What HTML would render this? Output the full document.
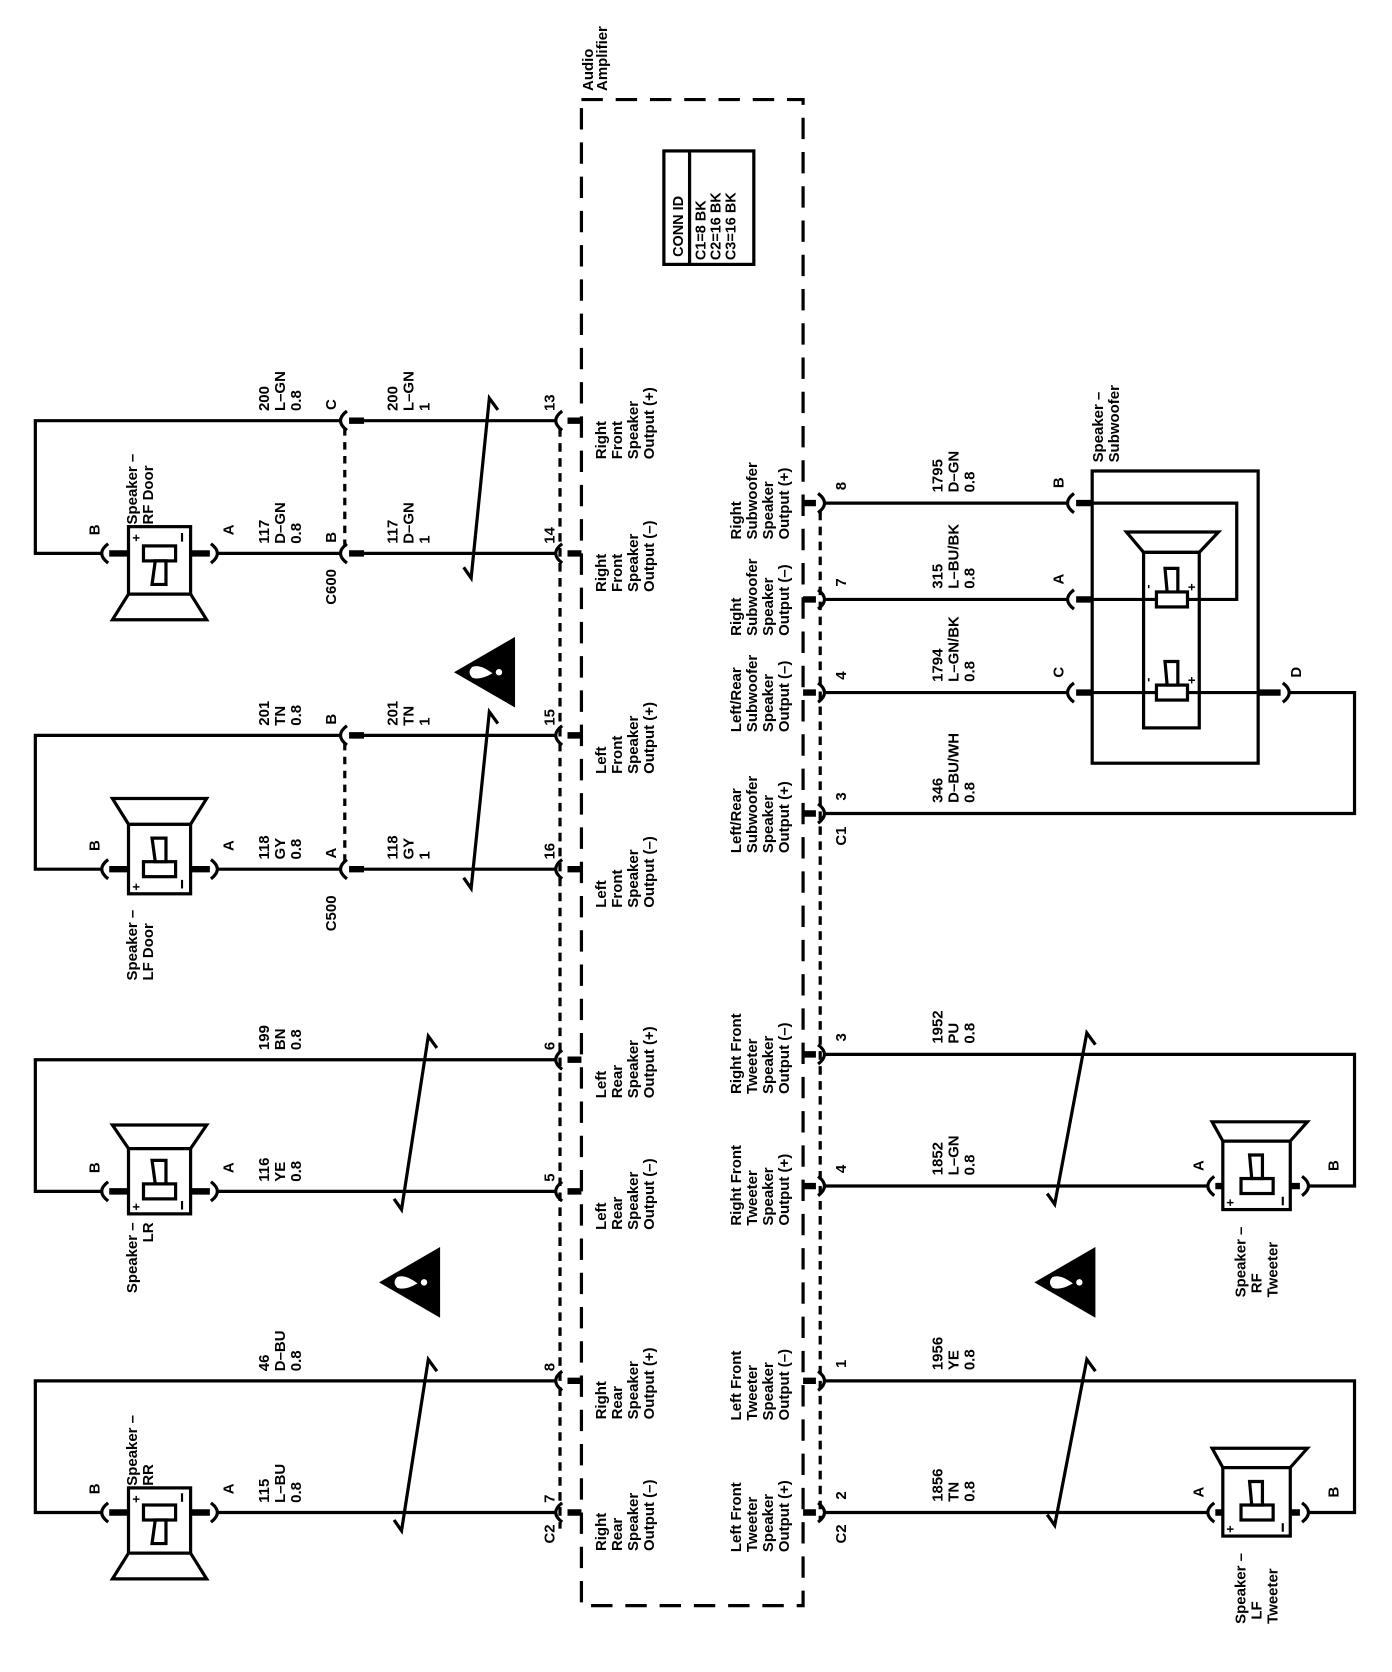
<!DOCTYPE html>
<html><head><meta charset="utf-8"><style>
html,body{margin:0;padding:0;background:#fff}
svg{display:block}
text{font-family:"Liberation Sans",Arial,sans-serif;font-size:14px;font-weight:bold;fill:#000}
.w{stroke:#000;stroke-width:3;fill:none}
.t{stroke:#000;stroke-width:6;fill:none}
.a{stroke:#000;stroke-width:3;fill:none}
.sm{font-size:12px}
.cn{font-size:13.5px}
</style></head><body>
<svg width="1392" height="1672" viewBox="0 0 1300 1562" preserveAspectRatio="none" xmlns="http://www.w3.org/2000/svg">
<rect width="1300" height="1562" fill="#fff"/>

<rect x="543" y="93" width="207" height="1407" fill="none" stroke="#000" stroke-width="3" stroke-dasharray="20 12"/>
<text transform="translate(554,85) rotate(-90)"><tspan x="0" y="0">Audio</tspan><tspan x="0" y="13">Amplifier</tspan></text>
<line x1="523" y1="400" x2="523" y2="1428" stroke="#000" stroke-width="3" stroke-dasharray="8 6"/>
<line x1="766" y1="478" x2="766" y2="1420" stroke="#000" stroke-width="3" stroke-dasharray="8 6"/>

<rect x="620" y="141" width="84" height="106" fill="none" stroke="#000" stroke-width="3"/>
<line x1="644" y1="141" x2="644" y2="247" stroke="#000" stroke-width="3"/>
<text class="cn" transform="translate(638,240) rotate(-90)">CONN ID</text>
<text class="cn" transform="translate(659,243) rotate(-90)"><tspan x="0" y="0">C1=8 BK</tspan><tspan x="0" y="14">C2=16 BK</tspan><tspan x="0" y="28">C3=16 BK</tspan></text>

<g class="w">
<path d="M519,393 H340 M318,393 H33 V517 H95 M203,517 H318 M340,517 H519"/>
<path d="M519,687 H340 M318,687 H33 V812 H95 M203,812 H318 M340,812 H519"/>
<path d="M519,990 H33 V1113 H95 M203,1113 H519"/>
<path d="M519,1290 H33 V1413 H95 M203,1413 H519"/>
</g>
<line x1="322" y1="400" x2="322" y2="512" stroke="#000" stroke-width="3" stroke-dasharray="7 6"/>
<line x1="322" y1="694" x2="322" y2="807" stroke="#000" stroke-width="3" stroke-dasharray="7 6"/>

<g>
<path class="a" d="M525,384 Q513,393 525,402 M525,508 Q513,517 525,526 M525,678 Q513,687 525,696 M525,803 Q513,812 525,821 M525,981 Q513,990 525,999 M525,1104 Q513,1113 525,1122 M525,1281 Q513,1290 525,1299 M525,1404 Q513,1413 525,1422"/>
<path class="t" d="M530,393H543 M530,517H543 M530,687H543 M530,812H543 M530,990H543 M530,1113H543 M530,1290H543 M530,1413H543"/>
<path class="a" d="M324,384 Q312,393 324,402 M324,508 Q312,517 324,526 M324,678 Q312,687 324,696 M324,803 Q312,812 324,821"/>
<path class="t" d="M326,393H340 M326,517H340 M326,687H340 M326,812H340"/>
<path class="a" d="M101,508 Q89,517 101,526 M101,803 Q89,812 101,821 M101,1104 Q89,1113 101,1122 M101,1404 Q89,1413 101,1422"/>
<path class="a" d="M197,508 Q209,517 197,526 M197,803 Q209,812 197,821 M197,1104 Q209,1113 197,1122 M197,1404 Q209,1413 197,1422"/>
<path class="t" d="M102,517H120 M178,517H196 M102,812H120 M178,812H196 M102,1113H120 M178,1113H196 M102,1413H120 M178,1413H196"/>
</g>

<g stroke="#000" stroke-width="3" fill="#fff">
<rect x="120" y="492" width="58" height="63"/>
<polygon points="120,555 178,555 193,579 105,579"/>
<rect x="134" y="510" width="30" height="14"/>
<polygon points="145,524 155,524 155,546 142,546"/>
</g>
<text class="sm" transform="translate(131,499) rotate(-90)" text-anchor="end">+</text>
<line x1="170" y1="498" x2="170" y2="506" stroke="#000" stroke-width="2"/>
<g stroke="#000" stroke-width="3" fill="#fff">
<rect x="120" y="770" width="58" height="65"/>
<polygon points="120,770 178,770 193,746 105,746"/>
<rect x="134" y="805" width="30" height="14"/>
<polygon points="145,805 155,805 155,783 142,783"/>
</g>
<text class="sm" transform="translate(131,832) rotate(-90)">+</text>
<line x1="170" y1="822" x2="170" y2="830" stroke="#000" stroke-width="2"/>
<g stroke="#000" stroke-width="3" fill="#fff">
<rect x="120" y="1073" width="58" height="61"/>
<polygon points="120,1073 178,1073 193,1051 105,1051"/>
<rect x="134" y="1106" width="30" height="14"/>
<polygon points="145,1106 155,1106 155,1084 142,1084"/>
</g>
<text class="sm" transform="translate(131,1131) rotate(-90)">+</text>
<line x1="170" y1="1122" x2="170" y2="1130" stroke="#000" stroke-width="2"/>
<g stroke="#000" stroke-width="3" fill="#fff">
<rect x="120" y="1390" width="58" height="61"/>
<polygon points="120,1451 178,1451 193,1475 105,1475"/>
<rect x="134" y="1406" width="30" height="14"/>
<polygon points="145,1420 155,1420 155,1442 142,1442"/>
</g>
<text class="sm" transform="translate(131,1404) rotate(-90)">+</text>
<line x1="170" y1="1395" x2="170" y2="1403" stroke="#000" stroke-width="2"/>

<g class="a" stroke-width="2.5">
<path d="M433,530 L440,540 L457,372 L465,383"/>
<path d="M433,820 L440,830 L457,665 L465,676"/>
<path d="M368,1120 L375,1130 L400,968 L408,979"/>
<path d="M368,1420 L375,1430 L400,1270 L408,1281"/>
<path d="M978,1115 L985,1125 L1015,965 L1023,976"/>
<path d="M978,1415 L985,1425 L1015,1270 L1023,1281"/>
</g>

<g>
<polygon points="424,628 481,595 481,661" fill="#000"/>
<path d="M441,623 Q436,628 441,633 Q448,636 460,629 Q448,620 441,623Z" fill="#fff"/><circle cx="466" cy="628" r="3" fill="#fff"/>
<polygon points="354,1198 411,1165 411,1231" fill="#000"/>
<path d="M371,1193 Q366,1198 371,1203 Q378,1206 390,1199 Q378,1190 371,1193Z" fill="#fff"/><circle cx="396" cy="1198" r="3" fill="#fff"/>
<polygon points="966,1198 1023,1165 1023,1231" fill="#000"/>
<path d="M983,1193 Q978,1198 983,1203 Q990,1206 1002,1199 Q990,1190 983,1193Z" fill="#fff"/><circle cx="1008" cy="1198" r="3" fill="#fff"/>
</g>

<g>
<text transform="translate(251,384) rotate(-90)"><tspan x="0" y="0">200</tspan><tspan x="0" y="15">L–GN</tspan><tspan x="0" y="30">0.8</tspan></text>
<text transform="translate(371,384) rotate(-90)"><tspan x="0" y="0">200</tspan><tspan x="0" y="15">L–GN</tspan><tspan x="0" y="30">1</tspan></text>
<text transform="translate(251,508) rotate(-90)"><tspan x="0" y="0">117</tspan><tspan x="0" y="15">D–GN</tspan><tspan x="0" y="30">0.8</tspan></text>
<text transform="translate(371,508) rotate(-90)"><tspan x="0" y="0">117</tspan><tspan x="0" y="15">D–GN</tspan><tspan x="0" y="30">1</tspan></text>
<text transform="translate(251,678) rotate(-90)"><tspan x="0" y="0">201</tspan><tspan x="0" y="15">TN</tspan><tspan x="0" y="30">0.8</tspan></text>
<text transform="translate(371,678) rotate(-90)"><tspan x="0" y="0">201</tspan><tspan x="0" y="15">TN</tspan><tspan x="0" y="30">1</tspan></text>
<text transform="translate(251,803) rotate(-90)"><tspan x="0" y="0">118</tspan><tspan x="0" y="15">GY</tspan><tspan x="0" y="30">0.8</tspan></text>
<text transform="translate(371,803) rotate(-90)"><tspan x="0" y="0">118</tspan><tspan x="0" y="15">GY</tspan><tspan x="0" y="30">1</tspan></text>
<text transform="translate(251,981) rotate(-90)"><tspan x="0" y="0">199</tspan><tspan x="0" y="15">BN</tspan><tspan x="0" y="30">0.8</tspan></text>
<text transform="translate(251,1104) rotate(-90)"><tspan x="0" y="0">116</tspan><tspan x="0" y="15">YE</tspan><tspan x="0" y="30">0.8</tspan></text>
<text transform="translate(251,1281) rotate(-90)"><tspan x="0" y="0">46</tspan><tspan x="0" y="15">D–BU</tspan><tspan x="0" y="30">0.8</tspan></text>
<text transform="translate(251,1404) rotate(-90)"><tspan x="0" y="0">115</tspan><tspan x="0" y="15">L–BU</tspan><tspan x="0" y="30">0.8</tspan></text>

<text transform="translate(314,383) rotate(-90)">C</text>
<text transform="translate(314,507) rotate(-90)">B</text>
<text transform="translate(314,565) rotate(-90)">C600</text>
<text transform="translate(314,677) rotate(-90)">B</text>
<text transform="translate(314,802) rotate(-90)">A</text>
<text transform="translate(314,870) rotate(-90)">C500</text>

<text transform="translate(518,384) rotate(-90)">13</text>
<text transform="translate(518,508) rotate(-90)">14</text>
<text transform="translate(518,678) rotate(-90)">15</text>
<text transform="translate(518,803) rotate(-90)">16</text>
<text transform="translate(518,981) rotate(-90)">6</text>
<text transform="translate(518,1104) rotate(-90)">5</text>
<text transform="translate(518,1281) rotate(-90)">8</text>
<text transform="translate(518,1404) rotate(-90)">7</text>
<text transform="translate(518,1442) rotate(-90)">C2</text>

<text transform="translate(93,500) rotate(-90)">B</text>
<text transform="translate(218,500) rotate(-90)">A</text>
<text transform="translate(93,795) rotate(-90)">B</text>
<text transform="translate(218,795) rotate(-90)">A</text>
<text transform="translate(93,1096) rotate(-90)">B</text>
<text transform="translate(218,1096) rotate(-90)">A</text>
<text transform="translate(93,1396) rotate(-90)">B</text>
<text transform="translate(218,1396) rotate(-90)">A</text>

<text transform="translate(128,490) rotate(-90)"><tspan x="0" y="0">Speaker –</tspan><tspan x="0" y="15">RF Door</tspan></text>
<text transform="translate(128,916) rotate(-90)"><tspan x="0" y="0">Speaker –</tspan><tspan x="0" y="15">LF Door</tspan></text>
<text transform="translate(128,1142) rotate(-90)" text-anchor="end"><tspan x="0" y="0">Speaker –</tspan><tspan x="0" y="15">LR</tspan></text>
<text transform="translate(128,1388) rotate(-90)"><tspan x="0" y="0">Speaker –</tspan><tspan x="0" y="15">RR</tspan></text>
</g>

<g>
<text transform="translate(566,429) rotate(-90)"><tspan x="0" y="0">Right</tspan><tspan x="0" y="15">Front</tspan><tspan x="0" y="30">Speaker</tspan><tspan x="0" y="45">Output (+)</tspan></text>
<text transform="translate(566,553) rotate(-90)"><tspan x="0" y="0">Right</tspan><tspan x="0" y="15">Front</tspan><tspan x="0" y="30">Speaker</tspan><tspan x="0" y="45">Output (–)</tspan></text>
<text transform="translate(566,723) rotate(-90)"><tspan x="0" y="0">Left</tspan><tspan x="0" y="15">Front</tspan><tspan x="0" y="30">Speaker</tspan><tspan x="0" y="45">Output (+)</tspan></text>
<text transform="translate(566,848) rotate(-90)"><tspan x="0" y="0">Left</tspan><tspan x="0" y="15">Front</tspan><tspan x="0" y="30">Speaker</tspan><tspan x="0" y="45">Output (–)</tspan></text>
<text transform="translate(566,1026) rotate(-90)"><tspan x="0" y="0">Left</tspan><tspan x="0" y="15">Rear</tspan><tspan x="0" y="30">Speaker</tspan><tspan x="0" y="45">Output (+)</tspan></text>
<text transform="translate(566,1149) rotate(-90)"><tspan x="0" y="0">Left</tspan><tspan x="0" y="15">Rear</tspan><tspan x="0" y="30">Speaker</tspan><tspan x="0" y="45">Output (–)</tspan></text>
<text transform="translate(566,1326) rotate(-90)"><tspan x="0" y="0">Right</tspan><tspan x="0" y="15">Rear</tspan><tspan x="0" y="30">Speaker</tspan><tspan x="0" y="45">Output (+)</tspan></text>
<text transform="translate(566,1449) rotate(-90)"><tspan x="0" y="0">Right</tspan><tspan x="0" y="15">Rear</tspan><tspan x="0" y="30">Speaker</tspan><tspan x="0" y="45">Output (–)</tspan></text>
</g>

<g class="w">
<path d="M769,470 H997 M769,560 H997 M769,647 H997 M769,760 H1265 V647 H1203"/>
<path d="M1020,470 H1155 V560 H1108 M1020,560 H1080 M1020,647 H1080 M1108,647 H1175"/>
<path d="M769,985 H1265 V1108 H1222 M769,1108 H1128"/>
<path d="M769,1290 H1265 V1413 H1222 M769,1413 H1128"/>
</g>
<path class="a" d="M764,461 Q776,470 764,479 M764,551 Q776,560 764,569 M764,638 Q776,647 764,656 M764,751 Q776,760 764,769 M764,976 Q776,985 764,994 M764,1099 Q776,1108 764,1117 M764,1281 Q776,1290 764,1299 M764,1404 Q776,1413 764,1422"/>
<path class="t" d="M750,470H762 M750,560H762 M750,647H762 M750,760H762 M750,985H762 M750,1108H762 M750,1290H762 M750,1413H762"/>
<path class="a" d="M1003,461 Q991,470 1003,479 M1003,551 Q991,560 1003,569 M1003,638 Q991,647 1003,656"/>
<path class="t" d="M1005,470H1020 M1005,560H1020 M1005,647H1020 M1175,647H1196"/>
<path class="a" d="M1198,638 Q1210,647 1198,656"/>
<rect x="1020" y="440" width="155" height="273" fill="none" stroke="#000" stroke-width="3"/>
<g stroke="#000" stroke-width="3" fill="none">
<rect x="1068" y="516" width="52" height="164"/>
<polygon points="1068,516 1120,516 1138,497 1052,497"/>
<rect x="1080" y="553" width="29" height="14" fill="#fff"/>
<polygon points="1090,553 1100,553 1100,531 1088,531" fill="#fff"/>
<rect x="1080" y="640" width="29" height="14" fill="#fff"/>
<polygon points="1090,640 1100,640 1100,618 1088,618" fill="#fff"/>
</g>
<text class="sm" transform="translate(1076,550) rotate(-90)">-</text>
<text class="sm" transform="translate(1117,552) rotate(-90)">+</text>
<text class="sm" transform="translate(1076,637) rotate(-90)">-</text>
<text class="sm" transform="translate(1117,639) rotate(-90)">+</text>

<path class="a" d="M1134,1099 Q1122,1108 1134,1117 M1216,1099 Q1228,1108 1216,1117 M1134,1404 Q1122,1413 1134,1422 M1216,1404 Q1228,1413 1216,1422"/>
<path class="t" d="M1135,1108H1142 M1205,1108H1214 M1135,1413H1142 M1205,1413H1214"/>
<g stroke="#000" stroke-width="3" fill="#fff">
<rect x="1142" y="1066" width="63" height="64"/>
<polygon points="1142,1066 1205,1066 1221,1048 1132,1048"/>
<rect x="1159" y="1101" width="30" height="14"/>
<polygon points="1169,1101 1179,1101 1179,1079 1167,1079"/>
<rect x="1142" y="1371" width="63" height="64"/>
<polygon points="1142,1371 1205,1371 1221,1353 1132,1353"/>
<rect x="1159" y="1406" width="30" height="14"/>
<polygon points="1169,1406 1179,1406 1179,1384 1167,1384"/>
</g>
<text class="sm" transform="translate(1153,1127) rotate(-90)">+</text>
<line x1="1198" y1="1118" x2="1198" y2="1126" stroke="#000" stroke-width="2"/>
<text class="sm" transform="translate(1153,1432) rotate(-90)">+</text>
<line x1="1198" y1="1423" x2="1198" y2="1431" stroke="#000" stroke-width="2"/>

<g>
<text transform="translate(692,504) rotate(-90)"><tspan x="0" y="0">Right</tspan><tspan x="0" y="15">Subwoofer</tspan><tspan x="0" y="30">Speaker</tspan><tspan x="0" y="45">Output (+)</tspan></text>
<text transform="translate(692,594) rotate(-90)"><tspan x="0" y="0">Right</tspan><tspan x="0" y="15">Subwoofer</tspan><tspan x="0" y="30">Speaker</tspan><tspan x="0" y="45">Output (–)</tspan></text>
<text transform="translate(692,684) rotate(-90)"><tspan x="0" y="0">Left/Rear</tspan><tspan x="0" y="15">Subwoofer</tspan><tspan x="0" y="30">Speaker</tspan><tspan x="0" y="45">Output (–)</tspan></text>
<text transform="translate(692,797) rotate(-90)"><tspan x="0" y="0">Left/Rear</tspan><tspan x="0" y="15">Subwoofer</tspan><tspan x="0" y="30">Speaker</tspan><tspan x="0" y="45">Output (+)</tspan></text>
<text transform="translate(692,1022) rotate(-90)"><tspan x="0" y="0">Right Front</tspan><tspan x="0" y="15">Tweeter</tspan><tspan x="0" y="30">Speaker</tspan><tspan x="0" y="45">Output (–)</tspan></text>
<text transform="translate(692,1145) rotate(-90)"><tspan x="0" y="0">Right Front</tspan><tspan x="0" y="15">Tweeter</tspan><tspan x="0" y="30">Speaker</tspan><tspan x="0" y="45">Output (+)</tspan></text>
<text transform="translate(692,1327) rotate(-90)"><tspan x="0" y="0">Left Front</tspan><tspan x="0" y="15">Tweeter</tspan><tspan x="0" y="30">Speaker</tspan><tspan x="0" y="45">Output (–)</tspan></text>
<text transform="translate(692,1450) rotate(-90)"><tspan x="0" y="0">Left Front</tspan><tspan x="0" y="15">Tweeter</tspan><tspan x="0" y="30">Speaker</tspan><tspan x="0" y="45">Output (+)</tspan></text>

<text transform="translate(790,458) rotate(-90)">8</text>
<text transform="translate(790,548) rotate(-90)">7</text>
<text transform="translate(790,635) rotate(-90)">4</text>
<text transform="translate(790,748) rotate(-90)">3</text>
<text transform="translate(790,790) rotate(-90)">C1</text>
<text transform="translate(790,973) rotate(-90)">3</text>
<text transform="translate(790,1096) rotate(-90)">4</text>
<text transform="translate(790,1278) rotate(-90)">1</text>
<text transform="translate(790,1401) rotate(-90)">2</text>
<text transform="translate(790,1442) rotate(-90)">C2</text>

<text transform="translate(880,460) rotate(-90)"><tspan x="0" y="0">1795</tspan><tspan x="0" y="15">D–GN</tspan><tspan x="0" y="30">0.8</tspan></text>
<text transform="translate(880,550) rotate(-90)"><tspan x="0" y="0">315</tspan><tspan x="0" y="15">L–BU/BK</tspan><tspan x="0" y="30">0.8</tspan></text>
<text transform="translate(880,637) rotate(-90)"><tspan x="0" y="0">1794</tspan><tspan x="0" y="15">L–GN/BK</tspan><tspan x="0" y="30">0.8</tspan></text>
<text transform="translate(880,750) rotate(-90)"><tspan x="0" y="0">346</tspan><tspan x="0" y="15">D–BU/WH</tspan><tspan x="0" y="30">0.8</tspan></text>
<text transform="translate(880,975) rotate(-90)"><tspan x="0" y="0">1952</tspan><tspan x="0" y="15">PU</tspan><tspan x="0" y="30">0.8</tspan></text>
<text transform="translate(880,1098) rotate(-90)"><tspan x="0" y="0">1852</tspan><tspan x="0" y="15">L–GN</tspan><tspan x="0" y="30">0.8</tspan></text>
<text transform="translate(880,1280) rotate(-90)"><tspan x="0" y="0">1956</tspan><tspan x="0" y="15">YE</tspan><tspan x="0" y="30">0.8</tspan></text>
<text transform="translate(880,1403) rotate(-90)"><tspan x="0" y="0">1856</tspan><tspan x="0" y="15">TN</tspan><tspan x="0" y="30">0.8</tspan></text>

<text transform="translate(993,456) rotate(-90)">B</text>
<text transform="translate(993,546) rotate(-90)">A</text>
<text transform="translate(993,633) rotate(-90)">C</text>
<text transform="translate(1215,633) rotate(-90)">D</text>
<text transform="translate(1030,432) rotate(-90)"><tspan x="0" y="0">Speaker –</tspan><tspan x="0" y="15">Subwoofer</tspan></text>

<text transform="translate(1124,1094) rotate(-90)">A</text>
<text transform="translate(1250,1094) rotate(-90)">B</text>
<text transform="translate(1124,1399) rotate(-90)">A</text>
<text transform="translate(1250,1399) rotate(-90)">B</text>
<text transform="translate(1163,1212) rotate(-90)"><tspan x="0" y="0">Speaker –</tspan><tspan x="0" y="15">  RF</tspan><tspan x="0" y="30">Tweeter</tspan></text>
<text transform="translate(1163,1517) rotate(-90)"><tspan x="0" y="0">Speaker –</tspan><tspan x="0" y="15">  LF</tspan><tspan x="0" y="30">Tweeter</tspan></text>
</g>
</svg>
</body></html>
